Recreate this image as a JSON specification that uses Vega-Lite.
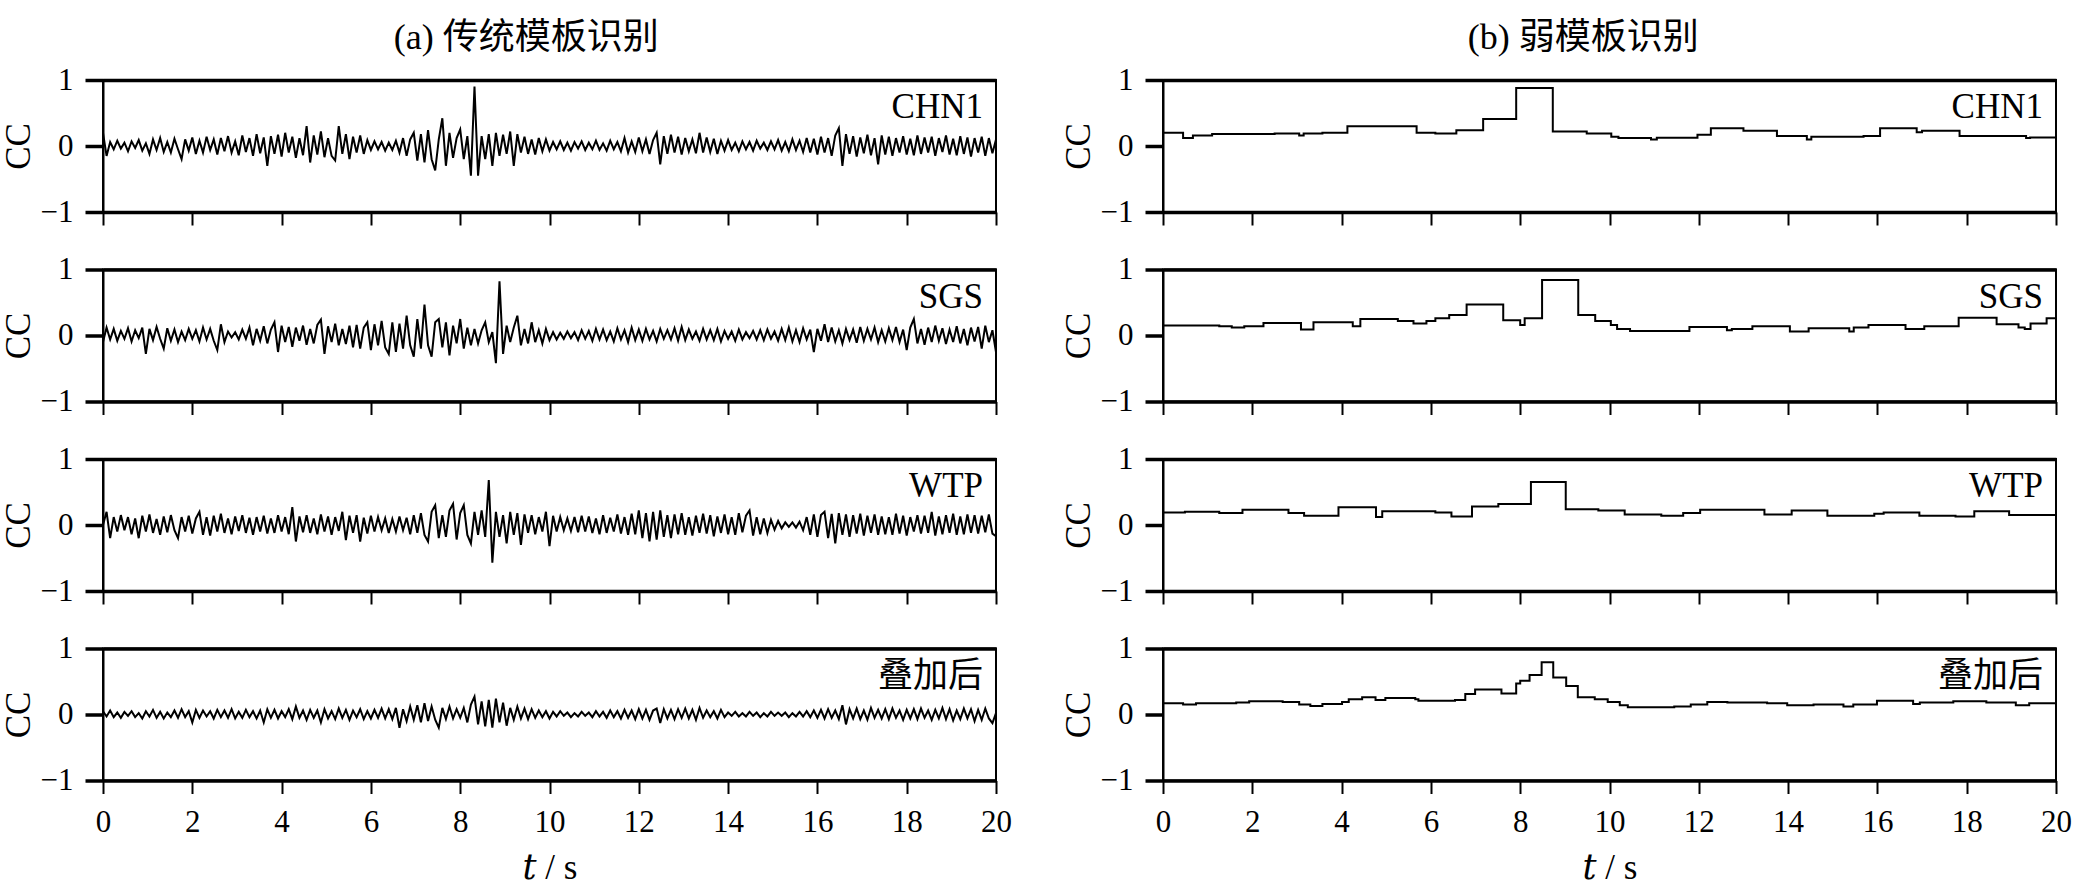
{
"$schema": "https://vega.github.io/schema/vega-lite/v6.json",
"padding": {"left": 0, "top": 20, "right": 0, "bottom": 0},
"datasets": {
"left": [
{"t":0,"CHN1":0.2,"SGS":-0.1,"WTP":0,"stack":0.05},
{"t":0.08,"CHN1":-0.15,"SGS":0.12,"WTP":0.2,"stack":-0.03},
{"t":0.16,"CHN1":0.06,"SGS":-0.06,"WTP":-0.2,"stack":0.06},
{"t":0.24,"CHN1":-0.05,"SGS":0.1,"WTP":0.12,"stack":-0.04},
{"t":0.32,"CHN1":0.08,"SGS":-0.08,"WTP":-0.1,"stack":0.03},
{"t":0.4,"CHN1":-0.04,"SGS":0.07,"WTP":0.15,"stack":-0.05},
{"t":0.48,"CHN1":0.05,"SGS":-0.05,"WTP":-0.08,"stack":0.04},
{"t":0.56,"CHN1":-0.08,"SGS":0.11,"WTP":0.12,"stack":-0.02},
{"t":0.64,"CHN1":0.07,"SGS":-0.09,"WTP":-0.14,"stack":0.05},
{"t":0.72,"CHN1":-0.03,"SGS":0.08,"WTP":0.1,"stack":-0.04},
{"t":0.8,"CHN1":0.09,"SGS":-0.04,"WTP":-0.2,"stack":0.02},
{"t":0.88,"CHN1":-0.07,"SGS":0.12,"WTP":0.14,"stack":-0.06},
{"t":0.96,"CHN1":0.04,"SGS":-0.28,"WTP":-0.1,"stack":0.05},
{"t":1.04,"CHN1":-0.12,"SGS":0.1,"WTP":0.16,"stack":-0.03},
{"t":1.12,"CHN1":0.1,"SGS":-0.07,"WTP":-0.12,"stack":0.07},
{"t":1.2,"CHN1":-0.06,"SGS":0.13,"WTP":0.09,"stack":-0.05},
{"t":1.28,"CHN1":0.12,"SGS":-0.05,"WTP":-0.15,"stack":0.04},
{"t":1.36,"CHN1":-0.09,"SGS":-0.2,"WTP":0.13,"stack":-0.06},
{"t":1.44,"CHN1":0.06,"SGS":0.11,"WTP":-0.11,"stack":0.03},
{"t":1.52,"CHN1":-0.1,"SGS":-0.08,"WTP":0.15,"stack":-0.04},
{"t":1.6,"CHN1":0.11,"SGS":0.09,"WTP":-0.08,"stack":0.06},
{"t":1.68,"CHN1":-0.05,"SGS":-0.1,"WTP":-0.2,"stack":-0.05},
{"t":1.76,"CHN1":-0.2,"SGS":0.06,"WTP":0.12,"stack":0.08},
{"t":1.84,"CHN1":0.1,"SGS":-0.07,"WTP":-0.1,"stack":-0.04},
{"t":1.92,"CHN1":-0.07,"SGS":0.1,"WTP":0.14,"stack":0.05},
{"t":2,"CHN1":0.13,"SGS":-0.05,"WTP":-0.13,"stack":-0.12},
{"t":2.08,"CHN1":-0.12,"SGS":0.08,"WTP":0.1,"stack":0.07},
{"t":2.16,"CHN1":0.08,"SGS":-0.09,"WTP":0.2,"stack":-0.05},
{"t":2.24,"CHN1":-0.1,"SGS":0.12,"WTP":-0.15,"stack":0.06},
{"t":2.32,"CHN1":0.14,"SGS":-0.06,"WTP":0.12,"stack":-0.03},
{"t":2.4,"CHN1":-0.06,"SGS":0.1,"WTP":-0.16,"stack":0.05},
{"t":2.48,"CHN1":0.1,"SGS":-0.08,"WTP":0.14,"stack":-0.06},
{"t":2.56,"CHN1":-0.13,"SGS":-0.22,"WTP":-0.1,"stack":0.07},
{"t":2.64,"CHN1":0.12,"SGS":0.17,"WTP":0.17,"stack":-0.04},
{"t":2.72,"CHN1":-0.08,"SGS":-0.1,"WTP":-0.12,"stack":0.06},
{"t":2.8,"CHN1":0.15,"SGS":0.06,"WTP":0.1,"stack":-0.05},
{"t":2.88,"CHN1":-0.1,"SGS":-0.03,"WTP":-0.14,"stack":0.08},
{"t":2.96,"CHN1":0.07,"SGS":0.05,"WTP":0.13,"stack":-0.06},
{"t":3.04,"CHN1":-0.14,"SGS":-0.06,"WTP":-0.09,"stack":0.04},
{"t":3.12,"CHN1":0.16,"SGS":0.09,"WTP":0.15,"stack":-0.05},
{"t":3.2,"CHN1":-0.09,"SGS":-0.05,"WTP":-0.12,"stack":0.07},
{"t":3.28,"CHN1":0.12,"SGS":0.12,"WTP":0.11,"stack":-0.04},
{"t":3.36,"CHN1":-0.15,"SGS":-0.15,"WTP":-0.15,"stack":0.05},
{"t":3.44,"CHN1":0.18,"SGS":0.1,"WTP":0.12,"stack":-0.06},
{"t":3.52,"CHN1":-0.11,"SGS":-0.08,"WTP":-0.1,"stack":0.06},
{"t":3.6,"CHN1":0.13,"SGS":0.14,"WTP":0.14,"stack":-0.12},
{"t":3.68,"CHN1":-0.3,"SGS":-0.12,"WTP":-0.13,"stack":0.08},
{"t":3.76,"CHN1":0.15,"SGS":0.09,"WTP":0.1,"stack":-0.05},
{"t":3.84,"CHN1":-0.12,"SGS":0.2,"WTP":-0.12,"stack":0.07},
{"t":3.92,"CHN1":0.17,"SGS":-0.25,"WTP":0.15,"stack":-0.06},
{"t":4,"CHN1":-0.16,"SGS":0.15,"WTP":-0.1,"stack":0.05},
{"t":4.08,"CHN1":0.2,"SGS":-0.1,"WTP":0.12,"stack":-0.04},
{"t":4.16,"CHN1":-0.1,"SGS":0.13,"WTP":-0.14,"stack":0.08},
{"t":4.24,"CHN1":0.14,"SGS":-0.17,"WTP":0.27,"stack":-0.07},
{"t":4.32,"CHN1":-0.18,"SGS":0.12,"WTP":-0.25,"stack":0.12},
{"t":4.4,"CHN1":0.12,"SGS":-0.08,"WTP":0.13,"stack":-0.05},
{"t":4.48,"CHN1":-0.14,"SGS":0.15,"WTP":-0.11,"stack":0.06},
{"t":4.56,"CHN1":0.3,"SGS":-0.14,"WTP":0.15,"stack":-0.08},
{"t":4.64,"CHN1":-0.25,"SGS":0.1,"WTP":-0.12,"stack":0.07},
{"t":4.72,"CHN1":0.16,"SGS":-0.12,"WTP":0.1,"stack":-0.05},
{"t":4.8,"CHN1":-0.13,"SGS":0.16,"WTP":-0.14,"stack":0.06},
{"t":4.88,"CHN1":0.22,"SGS":0.24,"WTP":0.16,"stack":-0.12},
{"t":4.96,"CHN1":-0.17,"SGS":-0.28,"WTP":-0.1,"stack":0.08},
{"t":5.04,"CHN1":0.12,"SGS":0.14,"WTP":0.13,"stack":-0.06},
{"t":5.12,"CHN1":-0.15,"SGS":-0.1,"WTP":-0.15,"stack":0.05},
{"t":5.2,"CHN1":-0.22,"SGS":0.18,"WTP":0.12,"stack":-0.07},
{"t":5.28,"CHN1":0.3,"SGS":-0.15,"WTP":-0.09,"stack":0.09},
{"t":5.36,"CHN1":-0.12,"SGS":0.1,"WTP":0.2,"stack":-0.05},
{"t":5.44,"CHN1":0.18,"SGS":-0.13,"WTP":-0.23,"stack":0.07},
{"t":5.52,"CHN1":-0.2,"SGS":0.15,"WTP":0.14,"stack":-0.08},
{"t":5.6,"CHN1":0.14,"SGS":-0.18,"WTP":-0.12,"stack":0.06},
{"t":5.68,"CHN1":-0.1,"SGS":0.16,"WTP":0.15,"stack":-0.04},
{"t":5.76,"CHN1":0.16,"SGS":-0.2,"WTP":-0.25,"stack":0.08},
{"t":5.84,"CHN1":-0.12,"SGS":0.12,"WTP":0.11,"stack":-0.07},
{"t":5.92,"CHN1":0.09,"SGS":0.2,"WTP":-0.13,"stack":0.05},
{"t":6,"CHN1":-0.06,"SGS":-0.22,"WTP":0.14,"stack":-0.06},
{"t":6.08,"CHN1":0.07,"SGS":0.17,"WTP":-0.1,"stack":0.07},
{"t":6.16,"CHN1":-0.05,"SGS":-0.15,"WTP":0.12,"stack":-0.05},
{"t":6.24,"CHN1":0.06,"SGS":0.22,"WTP":-0.08,"stack":0.09},
{"t":6.32,"CHN1":-0.07,"SGS":-0.18,"WTP":0.1,"stack":-0.06},
{"t":6.4,"CHN1":0.05,"SGS":-0.28,"WTP":-0.12,"stack":0.08},
{"t":6.48,"CHN1":-0.06,"SGS":0.2,"WTP":0.09,"stack":-0.07},
{"t":6.56,"CHN1":0.08,"SGS":-0.25,"WTP":-0.1,"stack":0.1},
{"t":6.64,"CHN1":-0.1,"SGS":0.18,"WTP":0.13,"stack":-0.2},
{"t":6.72,"CHN1":0.12,"SGS":-0.2,"WTP":-0.08,"stack":0.08},
{"t":6.8,"CHN1":-0.15,"SGS":0.3,"WTP":0.11,"stack":-0.1},
{"t":6.88,"CHN1":0.1,"SGS":-0.15,"WTP":-0.14,"stack":0.12},
{"t":6.96,"CHN1":0.2,"SGS":-0.32,"WTP":0.15,"stack":-0.08},
{"t":7.04,"CHN1":-0.22,"SGS":0.25,"WTP":-0.12,"stack":0.14},
{"t":7.12,"CHN1":0.18,"SGS":-0.2,"WTP":0.18,"stack":-0.12},
{"t":7.2,"CHN1":-0.25,"SGS":0.47,"WTP":-0.15,"stack":0.17},
{"t":7.28,"CHN1":0.24,"SGS":-0.15,"WTP":-0.25,"stack":-0.1},
{"t":7.36,"CHN1":-0.2,"SGS":-0.32,"WTP":0.2,"stack":0.12},
{"t":7.44,"CHN1":-0.37,"SGS":0.2,"WTP":0.3,"stack":-0.08},
{"t":7.52,"CHN1":0.1,"SGS":0.25,"WTP":-0.2,"stack":-0.2},
{"t":7.6,"CHN1":0.42,"SGS":-0.18,"WTP":0.15,"stack":0.1},
{"t":7.68,"CHN1":-0.3,"SGS":0.2,"WTP":-0.18,"stack":-0.07},
{"t":7.76,"CHN1":0.2,"SGS":-0.3,"WTP":0.22,"stack":0.12},
{"t":7.84,"CHN1":-0.18,"SGS":0.15,"WTP":0.32,"stack":-0.06},
{"t":7.92,"CHN1":0.12,"SGS":-0.12,"WTP":-0.22,"stack":0.08},
{"t":8,"CHN1":0.25,"SGS":0.25,"WTP":0.18,"stack":-0.05},
{"t":8.08,"CHN1":-0.2,"SGS":-0.2,"WTP":0.3,"stack":0.1},
{"t":8.16,"CHN1":0.15,"SGS":0.12,"WTP":-0.15,"stack":-0.12},
{"t":8.24,"CHN1":-0.45,"SGS":-0.15,"WTP":-0.28,"stack":0.15},
{"t":8.32,"CHN1":0.9,"SGS":0.1,"WTP":0.2,"stack":0.27},
{"t":8.4,"CHN1":-0.45,"SGS":-0.12,"WTP":-0.15,"stack":-0.15},
{"t":8.48,"CHN1":0.15,"SGS":0.08,"WTP":0.22,"stack":0.2},
{"t":8.56,"CHN1":-0.2,"SGS":0.2,"WTP":-0.18,"stack":-0.18},
{"t":8.64,"CHN1":0.18,"SGS":-0.1,"WTP":0.68,"stack":0.22},
{"t":8.72,"CHN1":-0.3,"SGS":0.05,"WTP":-0.57,"stack":-0.2},
{"t":8.8,"CHN1":0.2,"SGS":-0.42,"WTP":0.2,"stack":0.24},
{"t":8.88,"CHN1":-0.15,"SGS":0.82,"WTP":-0.18,"stack":-0.12},
{"t":8.96,"CHN1":0.17,"SGS":-0.28,"WTP":0.15,"stack":0.18},
{"t":9.04,"CHN1":-0.12,"SGS":0.15,"WTP":-0.28,"stack":-0.17},
{"t":9.12,"CHN1":0.22,"SGS":-0.1,"WTP":0.2,"stack":0.1},
{"t":9.2,"CHN1":-0.3,"SGS":0.12,"WTP":-0.15,"stack":-0.08},
{"t":9.28,"CHN1":0.18,"SGS":0.3,"WTP":0.18,"stack":0.12},
{"t":9.36,"CHN1":-0.1,"SGS":-0.15,"WTP":-0.3,"stack":-0.06},
{"t":9.44,"CHN1":0.14,"SGS":0.1,"WTP":0.16,"stack":0.09},
{"t":9.52,"CHN1":-0.12,"SGS":-0.12,"WTP":-0.12,"stack":-0.07},
{"t":9.6,"CHN1":0.1,"SGS":0.2,"WTP":0.15,"stack":0.08},
{"t":9.68,"CHN1":-0.13,"SGS":-0.1,"WTP":-0.14,"stack":-0.05},
{"t":9.76,"CHN1":0.12,"SGS":0.08,"WTP":0.12,"stack":0.06},
{"t":9.84,"CHN1":-0.08,"SGS":-0.12,"WTP":-0.1,"stack":-0.04},
{"t":9.92,"CHN1":0.1,"SGS":0.1,"WTP":0.2,"stack":0.05},
{"t":10,"CHN1":-0.07,"SGS":-0.07,"WTP":-0.32,"stack":-0.06},
{"t":10.08,"CHN1":0.06,"SGS":0.05,"WTP":0.14,"stack":0.04},
{"t":10.16,"CHN1":-0.05,"SGS":-0.06,"WTP":-0.1,"stack":-0.03},
{"t":10.24,"CHN1":0.07,"SGS":0.04,"WTP":0.12,"stack":0.05},
{"t":10.32,"CHN1":-0.06,"SGS":-0.05,"WTP":-0.08,"stack":-0.02},
{"t":10.4,"CHN1":0.05,"SGS":0.06,"WTP":0.1,"stack":0.03},
{"t":10.48,"CHN1":-0.07,"SGS":-0.04,"WTP":-0.09,"stack":-0.04},
{"t":10.56,"CHN1":0.06,"SGS":0.05,"WTP":0.12,"stack":0.02},
{"t":10.64,"CHN1":-0.04,"SGS":-0.07,"WTP":-0.11,"stack":-0.03},
{"t":10.72,"CHN1":0.07,"SGS":0.08,"WTP":0.14,"stack":0.04},
{"t":10.8,"CHN1":-0.06,"SGS":-0.05,"WTP":-0.1,"stack":-0.02},
{"t":10.88,"CHN1":0.05,"SGS":0.07,"WTP":0.13,"stack":0.03},
{"t":10.96,"CHN1":-0.05,"SGS":-0.08,"WTP":-0.12,"stack":-0.04},
{"t":11.04,"CHN1":0.08,"SGS":0.1,"WTP":0.1,"stack":0.05},
{"t":11.12,"CHN1":-0.06,"SGS":-0.06,"WTP":-0.14,"stack":-0.03},
{"t":11.2,"CHN1":0.04,"SGS":0.09,"WTP":0.15,"stack":0.04},
{"t":11.28,"CHN1":-0.07,"SGS":-0.07,"WTP":-0.12,"stack":-0.05},
{"t":11.36,"CHN1":0.08,"SGS":0.06,"WTP":0.11,"stack":0.06},
{"t":11.44,"CHN1":-0.05,"SGS":-0.09,"WTP":-0.1,"stack":-0.04},
{"t":11.52,"CHN1":0.06,"SGS":0.11,"WTP":0.16,"stack":0.05},
{"t":11.6,"CHN1":-0.08,"SGS":-0.06,"WTP":-0.13,"stack":-0.06},
{"t":11.68,"CHN1":0.12,"SGS":0.08,"WTP":0.12,"stack":0.07},
{"t":11.76,"CHN1":-0.1,"SGS":-0.1,"WTP":-0.15,"stack":-0.05},
{"t":11.84,"CHN1":0.07,"SGS":0.12,"WTP":0.17,"stack":0.06},
{"t":11.92,"CHN1":-0.09,"SGS":-0.07,"WTP":-0.14,"stack":-0.07},
{"t":12,"CHN1":0.13,"SGS":0.09,"WTP":0.22,"stack":0.08},
{"t":12.08,"CHN1":-0.08,"SGS":-0.08,"WTP":-0.2,"stack":-0.06},
{"t":12.16,"CHN1":0.1,"SGS":0.1,"WTP":0.18,"stack":0.07},
{"t":12.24,"CHN1":-0.12,"SGS":-0.06,"WTP":-0.25,"stack":-0.08},
{"t":12.32,"CHN1":0.09,"SGS":0.07,"WTP":0.2,"stack":0.06},
{"t":12.4,"CHN1":0.2,"SGS":-0.09,"WTP":-0.22,"stack":0.09},
{"t":12.48,"CHN1":-0.28,"SGS":0.1,"WTP":0.22,"stack":-0.13},
{"t":12.56,"CHN1":0.15,"SGS":-0.05,"WTP":-0.18,"stack":0.08},
{"t":12.64,"CHN1":-0.12,"SGS":0.08,"WTP":0.15,"stack":-0.06},
{"t":12.72,"CHN1":0.17,"SGS":-0.06,"WTP":-0.2,"stack":0.07},
{"t":12.8,"CHN1":-0.1,"SGS":0.11,"WTP":0.16,"stack":-0.07},
{"t":12.88,"CHN1":0.14,"SGS":-0.08,"WTP":-0.14,"stack":0.08},
{"t":12.96,"CHN1":-0.13,"SGS":0.13,"WTP":0.18,"stack":-0.05},
{"t":13.04,"CHN1":0.12,"SGS":-0.07,"WTP":-0.15,"stack":0.09},
{"t":13.12,"CHN1":-0.08,"SGS":0.09,"WTP":0.12,"stack":-0.06},
{"t":13.2,"CHN1":0.1,"SGS":-0.05,"WTP":-0.16,"stack":0.07},
{"t":13.28,"CHN1":-0.11,"SGS":0.06,"WTP":0.14,"stack":-0.08},
{"t":13.36,"CHN1":0.2,"SGS":-0.08,"WTP":-0.12,"stack":0.1},
{"t":13.44,"CHN1":-0.1,"SGS":0.1,"WTP":0.17,"stack":-0.05},
{"t":13.52,"CHN1":0.13,"SGS":-0.06,"WTP":-0.13,"stack":0.06},
{"t":13.6,"CHN1":-0.09,"SGS":0.08,"WTP":0.15,"stack":-0.04},
{"t":13.68,"CHN1":0.11,"SGS":-0.07,"WTP":-0.17,"stack":0.05},
{"t":13.76,"CHN1":-0.12,"SGS":0.1,"WTP":0.13,"stack":-0.06},
{"t":13.84,"CHN1":0.08,"SGS":-0.09,"WTP":-0.12,"stack":0.07},
{"t":13.92,"CHN1":-0.07,"SGS":0.07,"WTP":0.16,"stack":-0.04},
{"t":14,"CHN1":0.09,"SGS":-0.05,"WTP":-0.14,"stack":0.03},
{"t":14.08,"CHN1":-0.06,"SGS":0.06,"WTP":0.12,"stack":-0.02},
{"t":14.16,"CHN1":0.05,"SGS":-0.08,"WTP":-0.15,"stack":0.04},
{"t":14.24,"CHN1":-0.08,"SGS":0.09,"WTP":0.18,"stack":-0.03},
{"t":14.32,"CHN1":0.07,"SGS":-0.06,"WTP":-0.11,"stack":0.02},
{"t":14.4,"CHN1":-0.05,"SGS":0.05,"WTP":0.14,"stack":-0.03},
{"t":14.48,"CHN1":0.06,"SGS":-0.04,"WTP":0.22,"stack":0.04},
{"t":14.56,"CHN1":-0.07,"SGS":0.07,"WTP":-0.16,"stack":-0.02},
{"t":14.64,"CHN1":0.08,"SGS":-0.06,"WTP":0.12,"stack":0.03},
{"t":14.72,"CHN1":-0.04,"SGS":0.08,"WTP":-0.14,"stack":-0.04},
{"t":14.8,"CHN1":0.05,"SGS":-0.07,"WTP":0.1,"stack":0.02},
{"t":14.88,"CHN1":-0.06,"SGS":0.09,"WTP":-0.12,"stack":-0.03},
{"t":14.96,"CHN1":0.07,"SGS":-0.05,"WTP":0.08,"stack":0.04},
{"t":15.04,"CHN1":-0.05,"SGS":0.06,"WTP":-0.07,"stack":-0.02},
{"t":15.12,"CHN1":0.09,"SGS":-0.08,"WTP":0.06,"stack":0.03},
{"t":15.2,"CHN1":-0.07,"SGS":0.1,"WTP":-0.05,"stack":-0.02},
{"t":15.28,"CHN1":0.06,"SGS":-0.07,"WTP":0.04,"stack":0.03},
{"t":15.36,"CHN1":-0.08,"SGS":0.12,"WTP":-0.03,"stack":-0.04},
{"t":15.44,"CHN1":0.1,"SGS":-0.09,"WTP":0.04,"stack":0.02},
{"t":15.52,"CHN1":-0.06,"SGS":0.08,"WTP":-0.04,"stack":-0.03},
{"t":15.6,"CHN1":0.08,"SGS":-0.1,"WTP":0.05,"stack":0.04},
{"t":15.68,"CHN1":-0.09,"SGS":0.11,"WTP":-0.08,"stack":-0.03},
{"t":15.76,"CHN1":0.12,"SGS":-0.06,"WTP":0.12,"stack":0.05},
{"t":15.84,"CHN1":-0.1,"SGS":0.09,"WTP":-0.15,"stack":-0.04},
{"t":15.92,"CHN1":0.11,"SGS":-0.25,"WTP":0.16,"stack":0.06},
{"t":16,"CHN1":-0.13,"SGS":0.1,"WTP":-0.18,"stack":-0.05},
{"t":16.08,"CHN1":0.14,"SGS":-0.08,"WTP":0.15,"stack":0.07},
{"t":16.16,"CHN1":-0.1,"SGS":0.17,"WTP":0.2,"stack":-0.06},
{"t":16.24,"CHN1":0.12,"SGS":-0.1,"WTP":-0.2,"stack":0.08},
{"t":16.32,"CHN1":-0.15,"SGS":0.12,"WTP":0.17,"stack":-0.05},
{"t":16.4,"CHN1":0.16,"SGS":-0.09,"WTP":-0.28,"stack":0.06},
{"t":16.48,"CHN1":0.27,"SGS":0.08,"WTP":0.18,"stack":-0.07},
{"t":16.56,"CHN1":-0.3,"SGS":-0.12,"WTP":-0.15,"stack":0.14},
{"t":16.64,"CHN1":0.18,"SGS":0.1,"WTP":0.16,"stack":-0.15},
{"t":16.72,"CHN1":-0.12,"SGS":-0.07,"WTP":-0.18,"stack":0.08},
{"t":16.8,"CHN1":0.15,"SGS":0.09,"WTP":0.15,"stack":-0.06},
{"t":16.88,"CHN1":-0.16,"SGS":-0.11,"WTP":-0.13,"stack":0.09},
{"t":16.96,"CHN1":0.13,"SGS":0.13,"WTP":0.17,"stack":-0.07},
{"t":17.04,"CHN1":-0.11,"SGS":-0.08,"WTP":-0.16,"stack":0.06},
{"t":17.12,"CHN1":0.17,"SGS":0.1,"WTP":0.14,"stack":-0.08},
{"t":17.2,"CHN1":-0.14,"SGS":-0.06,"WTP":-0.12,"stack":0.1},
{"t":17.28,"CHN1":0.12,"SGS":0.12,"WTP":0.16,"stack":-0.05},
{"t":17.36,"CHN1":-0.28,"SGS":-0.1,"WTP":-0.15,"stack":0.07},
{"t":17.44,"CHN1":0.16,"SGS":0.08,"WTP":0.13,"stack":-0.06},
{"t":17.52,"CHN1":-0.13,"SGS":-0.09,"WTP":-0.14,"stack":0.08},
{"t":17.6,"CHN1":0.14,"SGS":0.11,"WTP":0.12,"stack":-0.07},
{"t":17.68,"CHN1":-0.15,"SGS":-0.07,"WTP":-0.15,"stack":0.09},
{"t":17.76,"CHN1":0.12,"SGS":0.13,"WTP":0.17,"stack":-0.05},
{"t":17.84,"CHN1":-0.1,"SGS":-0.1,"WTP":-0.13,"stack":0.06},
{"t":17.92,"CHN1":0.15,"SGS":0.09,"WTP":0.14,"stack":-0.08},
{"t":18,"CHN1":-0.13,"SGS":-0.22,"WTP":-0.16,"stack":0.07},
{"t":18.08,"CHN1":0.11,"SGS":0.12,"WTP":0.12,"stack":-0.06},
{"t":18.16,"CHN1":-0.14,"SGS":0.25,"WTP":-0.1,"stack":0.08},
{"t":18.24,"CHN1":0.16,"SGS":-0.12,"WTP":0.15,"stack":-0.07},
{"t":18.32,"CHN1":-0.12,"SGS":0.1,"WTP":-0.13,"stack":0.09},
{"t":18.4,"CHN1":0.13,"SGS":-0.14,"WTP":0.14,"stack":-0.05},
{"t":18.48,"CHN1":-0.1,"SGS":0.12,"WTP":-0.12,"stack":0.06},
{"t":18.56,"CHN1":0.14,"SGS":-0.1,"WTP":0.2,"stack":-0.08},
{"t":18.64,"CHN1":-0.15,"SGS":0.15,"WTP":-0.16,"stack":0.07},
{"t":18.72,"CHN1":0.12,"SGS":-0.08,"WTP":0.13,"stack":-0.06},
{"t":18.8,"CHN1":-0.09,"SGS":0.11,"WTP":-0.14,"stack":0.1},
{"t":18.88,"CHN1":0.16,"SGS":-0.13,"WTP":0.15,"stack":-0.07},
{"t":18.96,"CHN1":-0.13,"SGS":0.09,"WTP":-0.12,"stack":0.08},
{"t":19.04,"CHN1":0.11,"SGS":-0.1,"WTP":0.17,"stack":-0.09},
{"t":19.12,"CHN1":-0.14,"SGS":0.14,"WTP":-0.15,"stack":0.06},
{"t":19.2,"CHN1":0.15,"SGS":-0.12,"WTP":0.13,"stack":-0.07},
{"t":19.28,"CHN1":-0.12,"SGS":0.1,"WTP":-0.14,"stack":0.09},
{"t":19.36,"CHN1":0.13,"SGS":-0.15,"WTP":0.16,"stack":-0.06},
{"t":19.44,"CHN1":-0.16,"SGS":0.12,"WTP":-0.12,"stack":0.08},
{"t":19.52,"CHN1":0.12,"SGS":-0.09,"WTP":0.15,"stack":-0.1},
{"t":19.6,"CHN1":-0.1,"SGS":0.13,"WTP":-0.13,"stack":0.07},
{"t":19.68,"CHN1":0.14,"SGS":-0.2,"WTP":0.14,"stack":-0.08},
{"t":19.76,"CHN1":-0.15,"SGS":0.15,"WTP":-0.11,"stack":0.09},
{"t":19.84,"CHN1":0.12,"SGS":-0.1,"WTP":0.16,"stack":-0.06},
{"t":19.92,"CHN1":-0.11,"SGS":0.08,"WTP":-0.13,"stack":-0.13},
{"t":20,"CHN1":0.1,"SGS":-0.25,"WTP":-0.17,"stack":0.02}
],
"bCHN1": [{"t":0,"cc":0.2},{"t":0.45,"cc":0.12},{"t":0.67,"cc":0.16},{"t":1.1,"cc":0.18},{"t":2.5,"cc":0.19},{"t":3.05,"cc":0.16},{"t":3.15,"cc":0.19},{"t":3.57,"cc":0.2},{"t":4.13,"cc":0.3},{"t":5.68,"cc":0.2},{"t":6.1,"cc":0.19},{"t":6.57,"cc":0.24},{"t":7.17,"cc":0.41},{"t":7.91,"cc":0.88},{"t":8.73,"cc":0.22},{"t":9.49,"cc":0.19},{"t":10.04,"cc":0.14},{"t":10.2,"cc":0.12},{"t":10.93,"cc":0.1},{"t":11.06,"cc":0.125},{"t":11.97,"cc":0.17},{"t":12.27,"cc":0.27},{"t":13,"cc":0.23},{"t":13.75,"cc":0.15},{"t":14.42,"cc":0.1},{"t":14.52,"cc":0.14},{"t":15.69,"cc":0.15},{"t":16.06,"cc":0.27},{"t":16.88,"cc":0.21},{"t":17,"cc":0.23},{"t":17.84,"cc":0.15},{"t":19.33,"cc":0.12},{"t":19.42,"cc":0.13},{"t":20,"cc":0.13}],
"bSGS": [{"t":0,"cc":0.15},{"t":1.26,"cc":0.14},{"t":1.54,"cc":0.12},{"t":1.82,"cc":0.14},{"t":2.25,"cc":0.19},{"t":3.09,"cc":0.09},{"t":3.37,"cc":0.2},{"t":4.25,"cc":0.14},{"t":4.42,"cc":0.25},{"t":5.26,"cc":0.22},{"t":5.61,"cc":0.18},{"t":5.9,"cc":0.22},{"t":6.1,"cc":0.26},{"t":6.41,"cc":0.31},{"t":6.8,"cc":0.47},{"t":7.62,"cc":0.23},{"t":8,"cc":0.16},{"t":8.1,"cc":0.26},{"t":8.49,"cc":0.84},{"t":9.3,"cc":0.31},{"t":9.68,"cc":0.22},{"t":10.03,"cc":0.16},{"t":10.17,"cc":0.1},{"t":10.46,"cc":0.07},{"t":11.79,"cc":0.13},{"t":12.63,"cc":0.08},{"t":12.74,"cc":0.1},{"t":13.2,"cc":0.14},{"t":14.04,"cc":0.06},{"t":14.46,"cc":0.11},{"t":15.37,"cc":0.06},{"t":15.47,"cc":0.12},{"t":15.8,"cc":0.16},{"t":16.63,"cc":0.1},{"t":17.05,"cc":0.14},{"t":17.82,"cc":0.27},{"t":18.67,"cc":0.17},{"t":19.16,"cc":0.12},{"t":19.3,"cc":0.1},{"t":19.43,"cc":0.18},{"t":19.79,"cc":0.26},{"t":20,"cc":0.26}],
"bWTP": [{"t":0,"cc":0.19},{"t":0.49,"cc":0.2},{"t":1.26,"cc":0.18},{"t":1.78,"cc":0.23},{"t":2.81,"cc":0.18},{"t":3.16,"cc":0.14},{"t":3.93,"cc":0.27},{"t":4.77,"cc":0.12},{"t":4.91,"cc":0.21},{"t":6.1,"cc":0.19},{"t":6.46,"cc":0.13},{"t":6.92,"cc":0.28},{"t":7.51,"cc":0.32},{"t":8.24,"cc":0.65},{"t":9.02,"cc":0.24},{"t":9.75,"cc":0.22},{"t":10.34,"cc":0.16},{"t":11.16,"cc":0.14},{"t":11.65,"cc":0.18},{"t":12.03,"cc":0.23},{"t":13.47,"cc":0.16},{"t":14.08,"cc":0.22},{"t":14.88,"cc":0.14},{"t":15.93,"cc":0.17},{"t":16.14,"cc":0.19},{"t":16.94,"cc":0.14},{"t":17.75,"cc":0.13},{"t":18.17,"cc":0.21},{"t":18.95,"cc":0.15},{"t":20,"cc":0.15}],
"bStack": [{"t":0,"cc":0.17},{"t":0.45,"cc":0.15},{"t":0.74,"cc":0.17},{"t":1.64,"cc":0.18},{"t":1.93,"cc":0.2},{"t":2.68,"cc":0.19},{"t":3.05,"cc":0.15},{"t":3.3,"cc":0.13},{"t":3.57,"cc":0.16},{"t":4.01,"cc":0.19},{"t":4.16,"cc":0.23},{"t":4.46,"cc":0.26},{"t":4.76,"cc":0.22},{"t":4.98,"cc":0.25},{"t":5.65,"cc":0.23},{"t":5.72,"cc":0.21},{"t":6.54,"cc":0.22},{"t":6.77,"cc":0.31},{"t":6.99,"cc":0.38},{"t":7.58,"cc":0.32},{"t":7.91,"cc":0.47},{"t":8,"cc":0.51},{"t":8.21,"cc":0.6},{"t":8.48,"cc":0.79},{"t":8.74,"cc":0.56},{"t":9.03,"cc":0.43},{"t":9.29,"cc":0.26},{"t":9.67,"cc":0.23},{"t":9.96,"cc":0.19},{"t":10.23,"cc":0.14},{"t":10.41,"cc":0.11},{"t":11.45,"cc":0.12},{"t":11.82,"cc":0.15},{"t":12.19,"cc":0.19},{"t":12.64,"cc":0.18},{"t":13.53,"cc":0.17},{"t":13.98,"cc":0.14},{"t":14.57,"cc":0.15},{"t":15.24,"cc":0.12},{"t":15.46,"cc":0.15},{"t":15.99,"cc":0.21},{"t":16.8,"cc":0.16},{"t":16.95,"cc":0.18},{"t":17.7,"cc":0.2},{"t":18.44,"cc":0.18},{"t":19.1,"cc":0.14},{"t":19.4,"cc":0.17},{"t":20,"cc":0.17}]
},
"config": {
"font": "Liberation Serif, Noto Sans CJK SC",
"view": {"stroke": "black", "strokeWidth": 2},
"axis": {"domainColor": "black", "domainWidth": 2, "tickColor": "black", "labelColor": "black", "titleColor": "black", "labelFont": "Liberation Serif", "titleFont": "Liberation Serif, DejaVu Serif", "labelFontSize": 31, "titleFontSize": 35, "titleFontWeight": "normal", "labelFlush": false, "labelOverlap": false},
"axisX": {"tickSize": 13, "tickWidth": 2, "grid": false, "labelPadding": 14, "titlePadding": 13},
"axisY": {"tickSize": 18, "tickWidth": 3.5, "labelPadding": 12, "titlePadding": 4, "grid": true, "gridColor": "black", "gridWidth": 3.5, "format": "d"},
"title": {"fontSize": 36, "fontWeight": "normal", "color": "black", "font": "Liberation Serif, Noto Sans CJK SC"},
"line": {"color": "black", "strokeWidth": 2}
},
"spacing": 47,
"hconcat": [
{
"title": {"text": "(a) 传统模板识别", "anchor": "middle", "dx": 20, "offset": -22, "baseline": "alphabetic"},
"spacing": 57.5,
"bounds": "flush",
"vconcat": [
{"width": 893, "height": 132, "layer": [
 {"data": {"name": "left"}, "mark": {"type": "line"}, "encoding": {
  "x": {"field": "t", "type": "quantitative", "scale": {"domain": [0, 20], "nice": false}, "axis": {"values": [0,2,4,6,8,10,12,14,16,18,20], "labels": false, "title": null}},
  "y": {"field": "CHN1", "type": "quantitative", "scale": {"domain": [-1, 1]}, "axis": {"values": [-1, 0, 1], "title": "CC", "gridOpacity": {"condition": {"test": "datum.value === 0", "value": 0}, "value": 1}}}}},
 {"data": {"values": [{"label": "CHN1"}]}, "mark": {"type": "text", "align": "right", "baseline": "alphabetic", "dx": -13, "dy": 38, "fontSize": 35, "font": "Liberation Serif, Noto Sans CJK SC", "color": "black"}, "encoding": {"x": {"datum": 20}, "y": {"datum": 1}, "text": {"field": "label"}}}
]},
{"width": 893, "height": 132, "layer": [
 {"data": {"name": "left"}, "mark": {"type": "line"}, "encoding": {
  "x": {"field": "t", "type": "quantitative", "scale": {"domain": [0, 20], "nice": false}, "axis": {"values": [0,2,4,6,8,10,12,14,16,18,20], "labels": false, "title": null}},
  "y": {"field": "SGS", "type": "quantitative", "scale": {"domain": [-1, 1]}, "axis": {"values": [-1, 0, 1], "title": "CC", "gridOpacity": {"condition": {"test": "datum.value === 0", "value": 0}, "value": 1}}}}},
 {"data": {"values": [{"label": "SGS"}]}, "mark": {"type": "text", "align": "right", "baseline": "alphabetic", "dx": -13, "dy": 38, "fontSize": 35, "font": "Liberation Serif, Noto Sans CJK SC", "color": "black"}, "encoding": {"x": {"datum": 20}, "y": {"datum": 1}, "text": {"field": "label"}}}
]},
{"width": 893, "height": 132, "layer": [
 {"data": {"name": "left"}, "mark": {"type": "line"}, "encoding": {
  "x": {"field": "t", "type": "quantitative", "scale": {"domain": [0, 20], "nice": false}, "axis": {"values": [0,2,4,6,8,10,12,14,16,18,20], "labels": false, "title": null}},
  "y": {"field": "WTP", "type": "quantitative", "scale": {"domain": [-1, 1]}, "axis": {"values": [-1, 0, 1], "title": "CC", "gridOpacity": {"condition": {"test": "datum.value === 0", "value": 0}, "value": 1}}}}},
 {"data": {"values": [{"label": "WTP"}]}, "mark": {"type": "text", "align": "right", "baseline": "alphabetic", "dx": -13, "dy": 38, "fontSize": 35, "font": "Liberation Serif, Noto Sans CJK SC", "color": "black"}, "encoding": {"x": {"datum": 20}, "y": {"datum": 1}, "text": {"field": "label"}}}
]},
{"width": 893, "height": 132, "layer": [
 {"data": {"name": "left"}, "mark": {"type": "line"}, "encoding": {
  "x": {"field": "t", "type": "quantitative", "scale": {"domain": [0, 20], "nice": false}, "axis": {"values": [0,2,4,6,8,10,12,14,16,18,20], "title": "𝑡 / s"}},
  "y": {"field": "stack", "type": "quantitative", "scale": {"domain": [-1, 1]}, "axis": {"values": [-1, 0, 1], "title": "CC", "gridOpacity": {"condition": {"test": "datum.value === 0", "value": 0}, "value": 1}}}}},
 {"data": {"values": [{"label": "叠加后"}]}, "mark": {"type": "text", "align": "right", "baseline": "alphabetic", "dx": -13, "dy": 38, "fontSize": 35, "font": "Liberation Serif, Noto Sans CJK SC", "color": "black"}, "encoding": {"x": {"datum": 20}, "y": {"datum": 1}, "text": {"field": "label"}}}
]}
]
},
{
"title": {"text": "(b) 弱模板识别", "anchor": "middle", "dx": 17, "offset": -22, "baseline": "alphabetic"},
"spacing": 57.5,
"bounds": "flush",
"vconcat": [
{"width": 893, "height": 132, "layer": [
 {"data": {"name": "bCHN1"}, "mark": {"type": "line", "interpolate": "step-after"}, "encoding": {
  "x": {"field": "t", "type": "quantitative", "scale": {"domain": [0, 20], "nice": false}, "axis": {"values": [0,2,4,6,8,10,12,14,16,18,20], "labels": false, "title": null}},
  "y": {"field": "cc", "type": "quantitative", "scale": {"domain": [-1, 1]}, "axis": {"values": [-1, 0, 1], "title": "CC", "gridOpacity": {"condition": {"test": "datum.value === 0", "value": 0}, "value": 1}}}}},
 {"data": {"values": [{"label": "CHN1"}]}, "mark": {"type": "text", "align": "right", "baseline": "alphabetic", "dx": -13, "dy": 38, "fontSize": 35, "font": "Liberation Serif, Noto Sans CJK SC", "color": "black"}, "encoding": {"x": {"datum": 20}, "y": {"datum": 1}, "text": {"field": "label"}}}
]},
{"width": 893, "height": 132, "layer": [
 {"data": {"name": "bSGS"}, "mark": {"type": "line", "interpolate": "step-after"}, "encoding": {
  "x": {"field": "t", "type": "quantitative", "scale": {"domain": [0, 20], "nice": false}, "axis": {"values": [0,2,4,6,8,10,12,14,16,18,20], "labels": false, "title": null}},
  "y": {"field": "cc", "type": "quantitative", "scale": {"domain": [-1, 1]}, "axis": {"values": [-1, 0, 1], "title": "CC", "gridOpacity": {"condition": {"test": "datum.value === 0", "value": 0}, "value": 1}}}}},
 {"data": {"values": [{"label": "SGS"}]}, "mark": {"type": "text", "align": "right", "baseline": "alphabetic", "dx": -13, "dy": 38, "fontSize": 35, "font": "Liberation Serif, Noto Sans CJK SC", "color": "black"}, "encoding": {"x": {"datum": 20}, "y": {"datum": 1}, "text": {"field": "label"}}}
]},
{"width": 893, "height": 132, "layer": [
 {"data": {"name": "bWTP"}, "mark": {"type": "line", "interpolate": "step-after"}, "encoding": {
  "x": {"field": "t", "type": "quantitative", "scale": {"domain": [0, 20], "nice": false}, "axis": {"values": [0,2,4,6,8,10,12,14,16,18,20], "labels": false, "title": null}},
  "y": {"field": "cc", "type": "quantitative", "scale": {"domain": [-1, 1]}, "axis": {"values": [-1, 0, 1], "title": "CC", "gridOpacity": {"condition": {"test": "datum.value === 0", "value": 0}, "value": 1}}}}},
 {"data": {"values": [{"label": "WTP"}]}, "mark": {"type": "text", "align": "right", "baseline": "alphabetic", "dx": -13, "dy": 38, "fontSize": 35, "font": "Liberation Serif, Noto Sans CJK SC", "color": "black"}, "encoding": {"x": {"datum": 20}, "y": {"datum": 1}, "text": {"field": "label"}}}
]},
{"width": 893, "height": 132, "layer": [
 {"data": {"name": "bStack"}, "mark": {"type": "line", "interpolate": "step-after"}, "encoding": {
  "x": {"field": "t", "type": "quantitative", "scale": {"domain": [0, 20], "nice": false}, "axis": {"values": [0,2,4,6,8,10,12,14,16,18,20], "title": "𝑡 / s"}},
  "y": {"field": "cc", "type": "quantitative", "scale": {"domain": [-1, 1]}, "axis": {"values": [-1, 0, 1], "title": "CC", "gridOpacity": {"condition": {"test": "datum.value === 0", "value": 0}, "value": 1}}}}},
 {"data": {"values": [{"label": "叠加后"}]}, "mark": {"type": "text", "align": "right", "baseline": "alphabetic", "dx": -13, "dy": 38, "fontSize": 35, "font": "Liberation Serif, Noto Sans CJK SC", "color": "black"}, "encoding": {"x": {"datum": 20}, "y": {"datum": 1}, "text": {"field": "label"}}}
]}
]
}
]
}
